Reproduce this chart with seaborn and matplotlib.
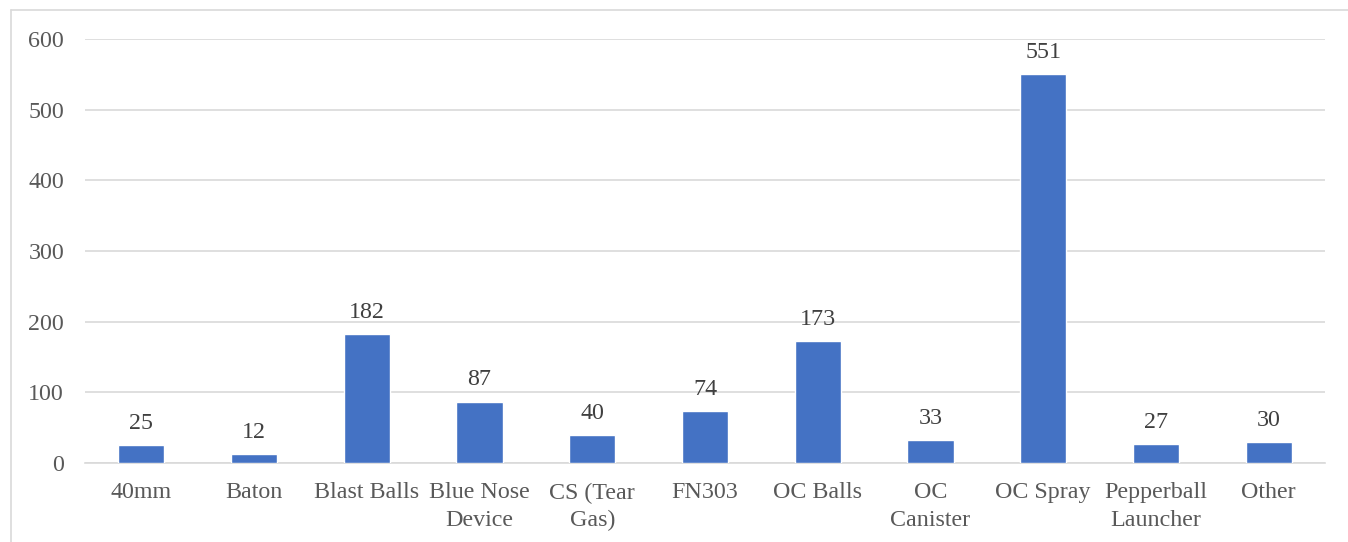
import matplotlib
matplotlib.use("Agg")
import matplotlib.pyplot as plt
import seaborn as sns
import pandas as pd

categories = ["40mm", "Baton", "Blast Balls", "Blue Nose\nDevice", "CS (Tear\nGas)",
              "FN303", "OC Balls", "OC\nCanister", "OC Spray", "Pepperball\nLauncher", "Other"]
counts = [25, 12, 182, 87, 40, 74, 173, 33, 551, 27, 30]
y_ticks = [0, 100, 200, 300, 400, 500, 600]

sns.set_theme(style="white")
plt.rcParams["font.family"] = ["Liberation Serif", "DejaVu Serif"]

df = pd.DataFrame({"category": categories, "count": counts})

fig = plt.figure(figsize=(13.48, 5.42), dpi=100)
ax = fig.add_axes([0.063, 0.1458, 0.92, 0.7822])

# chart frame (only top and left edges fall inside the canvas)
fig.add_artist(plt.Line2D([11/1348, 1.0], [1 - 10/542, 1 - 10/542], color="#D9D9D9", lw=1.2))
fig.add_artist(plt.Line2D([11/1348, 11/1348], [0, 1 - 10/542], color="#D9D9D9", lw=1.2))

sns.barplot(data=df, x="category", y="count", color="#4472C4", width=0.41,
            saturation=1, ax=ax, zorder=3)

ax.set_ylim(0, 600)
ax.set_xlim(-0.5, len(categories) - 0.5)
ax.set_yticks(y_ticks)
ax.yaxis.grid(True, color="#D9D9D9", lw=1.2)
ax.set_axisbelow(True)
for s in ["top", "right", "left"]:
    ax.spines[s].set_visible(False)
ax.spines["bottom"].set_color("#D9D9D9")
ax.spines["bottom"].set_linewidth(1.2)

fs = 17.3
ax.tick_params(axis="both", length=0, labelsize=fs, labelcolor="#595959")
ax.tick_params(axis="x", pad=14)
ax.tick_params(axis="y", pad=15)
ax.set_xlabel("")
ax.set_ylabel("")
for lbl in ax.get_xticklabels():
    lbl.set_linespacing(1.4)

for cont in ax.containers:
    ax.bar_label(cont, labels=[str(v) for v in counts], padding=8,
                 fontsize=fs, color="#404040")

fig.savefig("out.png", dpi=100)
